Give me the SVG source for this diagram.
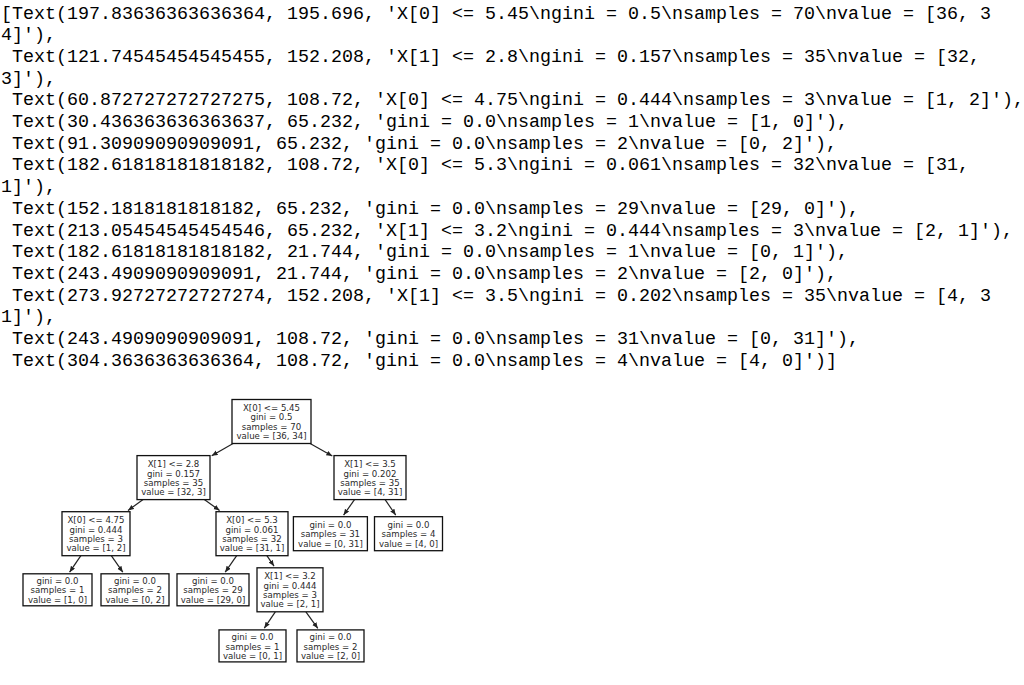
<svg xmlns="http://www.w3.org/2000/svg" width="1024" height="685" viewBox="0 0 1024 685">
  <style>
    .listing { font-family: "Liberation Mono", "Courier New", monospace; font-size: 18.33px; fill: #000; }
    .node rect { fill: #fff; stroke: #111; stroke-width: 1.3; }
    .node text { font-family: "DejaVu Sans", sans-serif; font-size: 8.6px; fill: #2a2a2a; text-anchor: middle; }
    .edge { stroke: #222; stroke-width: 1.2; fill: none; marker-end: url(#head); }
  </style>
  <defs>
    <marker id="head" markerUnits="userSpaceOnUse" markerWidth="8" markerHeight="8" refX="6" refY="2.5" orient="auto">
      <path d="M0,0 L6,2.5 L0,5 Z" fill="#222"/>
    </marker>
  </defs>
  <rect width="1024" height="685" fill="#fff"/>

  <!-- printed list of tree text artists; indented lines start one column in -->
  <g id="listing" class="listing">
    <text x="1" y="18.5">[Text(197.83636363636364, 195.696, 'X[0] &lt;= 5.45\ngini = 0.5\nsamples = 70\nvalue = [36, 3</text>
    <text x="1" y="40.2">4]'),</text>
    <text x="12" y="61.9">Text(121.74545454545455, 152.208, 'X[1] &lt;= 2.8\ngini = 0.157\nsamples = 35\nvalue = [32,</text>
    <text x="1" y="83.6">3]'),</text>
    <text x="12" y="105.3">Text(60.872727272727275, 108.72, 'X[0] &lt;= 4.75\ngini = 0.444\nsamples = 3\nvalue = [1, 2]'),</text>
    <text x="12" y="127.0">Text(30.436363636363637, 65.232, 'gini = 0.0\nsamples = 1\nvalue = [1, 0]'),</text>
    <text x="12" y="148.7">Text(91.30909090909091, 65.232, 'gini = 0.0\nsamples = 2\nvalue = [0, 2]'),</text>
    <text x="12" y="170.4">Text(182.61818181818182, 108.72, 'X[0] &lt;= 5.3\ngini = 0.061\nsamples = 32\nvalue = [31,</text>
    <text x="1" y="192.1">1]'),</text>
    <text x="12" y="213.8">Text(152.1818181818182, 65.232, 'gini = 0.0\nsamples = 29\nvalue = [29, 0]'),</text>
    <text x="12" y="235.5">Text(213.05454545454546, 65.232, 'X[1] &lt;= 3.2\ngini = 0.444\nsamples = 3\nvalue = [2, 1]'),</text>
    <text x="12" y="257.2">Text(182.61818181818182, 21.744, 'gini = 0.0\nsamples = 1\nvalue = [0, 1]'),</text>
    <text x="12" y="278.9">Text(243.4909090909091, 21.744, 'gini = 0.0\nsamples = 2\nvalue = [2, 0]'),</text>
    <text x="12" y="300.6">Text(273.92727272727274, 152.208, 'X[1] &lt;= 3.5\ngini = 0.202\nsamples = 35\nvalue = [4, 3</text>
    <text x="1" y="322.3">1]'),</text>
    <text x="12" y="344.0">Text(243.4909090909091, 108.72, 'gini = 0.0\nsamples = 31\nvalue = [0, 31]'),</text>
    <text x="12" y="365.7">Text(304.3636363636364, 108.72, 'gini = 0.0\nsamples = 4\nvalue = [4, 0]')]</text>
  </g>

  <!-- parent-to-child arrows -->
  <g id="connectors">
    <line class="edge" x1="233.1" y1="443.5" x2="211.7" y2="455.7"/>
    <line class="edge" x1="310.1" y1="443.5" x2="332.3" y2="456.1"/>
    <line class="edge" x1="143.1" y1="499.6" x2="128.0" y2="510.5"/>
    <line class="edge" x1="204.3" y1="499.6" x2="219.6" y2="510.5"/>
    <line class="edge" x1="354.5" y1="499.6" x2="343.6" y2="515.1"/>
    <line class="edge" x1="385.1" y1="499.6" x2="395.7" y2="515.1"/>
    <line class="edge" x1="80.9" y1="555.7" x2="69.6" y2="572.2"/>
    <line class="edge" x1="111.3" y1="555.7" x2="122.8" y2="572.2"/>
    <line class="edge" x1="236.7" y1="555.7" x2="225.2" y2="572.2"/>
    <line class="edge" x1="266.9" y1="555.7" x2="274.0" y2="566.1"/>
    <line class="edge" x1="275.3" y1="611.8" x2="264.3" y2="628.2"/>
    <line class="edge" x1="305.9" y1="611.8" x2="317.8" y2="628.3"/>
  </g>

  <!-- split and leaf nodes -->
  <g id="node0" class="node" transform="translate(271.5,421.5)">
    <rect x="-39.5" y="-22" width="79" height="44"/>
    <text><tspan x="0" y="-10.35">X[0] &lt;= 5.45</tspan><tspan x="0" y="-1.05">gini = 0.5</tspan><tspan x="0" y="8.25">samples = 70</tspan><tspan x="0" y="17.55">value = [36, 34]</tspan></text>
  </g>
  <g id="node1" class="node" transform="translate(173.5,477.6)">
    <rect x="-36.5" y="-22" width="73" height="44"/>
    <text><tspan x="0" y="-10.35">X[1] &lt;= 2.8</tspan><tspan x="0" y="-1.05">gini = 0.157</tspan><tspan x="0" y="8.25">samples = 35</tspan><tspan x="0" y="17.55">value = [32, 3]</tspan></text>
  </g>
  <g id="node2" class="node" transform="translate(96,533.7)">
    <rect x="-34" y="-22" width="68" height="44"/>
    <text><tspan x="0" y="-10.35">X[0] &lt;= 4.75</tspan><tspan x="0" y="-1.05">gini = 0.444</tspan><tspan x="0" y="8.25">samples = 3</tspan><tspan x="0" y="17.55">value = [1, 2]</tspan></text>
  </g>
  <g id="node3" class="node" transform="translate(57.5,589.8)">
    <rect x="-34.5" y="-16" width="69" height="32"/>
    <text><tspan x="0" y="-5.7">gini = 0.0</tspan><tspan x="0" y="3.6">samples = 1</tspan><tspan x="0" y="12.9">value = [1, 0]</tspan></text>
  </g>
  <g id="node4" class="node" transform="translate(135,589.8)">
    <rect x="-34" y="-16" width="68" height="32"/>
    <text><tspan x="0" y="-5.7">gini = 0.0</tspan><tspan x="0" y="3.6">samples = 2</tspan><tspan x="0" y="12.9">value = [0, 2]</tspan></text>
  </g>
  <g id="node5" class="node" transform="translate(252,533.7)">
    <rect x="-36" y="-22" width="72" height="44"/>
    <text><tspan x="0" y="-10.35">X[0] &lt;= 5.3</tspan><tspan x="0" y="-1.05">gini = 0.061</tspan><tspan x="0" y="8.25">samples = 32</tspan><tspan x="0" y="17.55">value = [31, 1]</tspan></text>
  </g>
  <g id="node6" class="node" transform="translate(213,589.8)">
    <rect x="-36" y="-16" width="72" height="32"/>
    <text><tspan x="0" y="-5.7">gini = 0.0</tspan><tspan x="0" y="3.6">samples = 29</tspan><tspan x="0" y="12.9">value = [29, 0]</tspan></text>
  </g>
  <g id="node7" class="node" transform="translate(290,589.8)">
    <rect x="-33" y="-22" width="66" height="44"/>
    <text><tspan x="0" y="-10.35">X[1] &lt;= 3.2</tspan><tspan x="0" y="-1.05">gini = 0.444</tspan><tspan x="0" y="8.25">samples = 3</tspan><tspan x="0" y="17.55">value = [2, 1]</tspan></text>
  </g>
  <g id="node8" class="node" transform="translate(252.5,645.9)">
    <rect x="-33.5" y="-16" width="67" height="32"/>
    <text><tspan x="0" y="-5.7">gini = 0.0</tspan><tspan x="0" y="3.6">samples = 1</tspan><tspan x="0" y="12.9">value = [0, 1]</tspan></text>
  </g>
  <g id="node9" class="node" transform="translate(330.5,645.9)">
    <rect x="-33.5" y="-16" width="67" height="32"/>
    <text><tspan x="0" y="-5.7">gini = 0.0</tspan><tspan x="0" y="3.6">samples = 2</tspan><tspan x="0" y="12.9">value = [2, 0]</tspan></text>
  </g>
  <g id="node10" class="node" transform="translate(370,477.6)">
    <rect x="-36" y="-22" width="72" height="44"/>
    <text><tspan x="0" y="-10.35">X[1] &lt;= 3.5</tspan><tspan x="0" y="-1.05">gini = 0.202</tspan><tspan x="0" y="8.25">samples = 35</tspan><tspan x="0" y="17.55">value = [4, 31]</tspan></text>
  </g>
  <g id="node11" class="node" transform="translate(330.4,533.7)">
    <rect x="-37" y="-17" width="74" height="34"/>
    <text><tspan x="0" y="-5.7">gini = 0.0</tspan><tspan x="0" y="3.6">samples = 31</tspan><tspan x="0" y="12.9">value = [0, 31]</tspan></text>
  </g>
  <g id="node12" class="node" transform="translate(408.5,533.7)">
    <rect x="-34" y="-17" width="68" height="34"/>
    <text><tspan x="0" y="-5.7">gini = 0.0</tspan><tspan x="0" y="3.6">samples = 4</tspan><tspan x="0" y="12.9">value = [4, 0]</tspan></text>
  </g>
</svg>
